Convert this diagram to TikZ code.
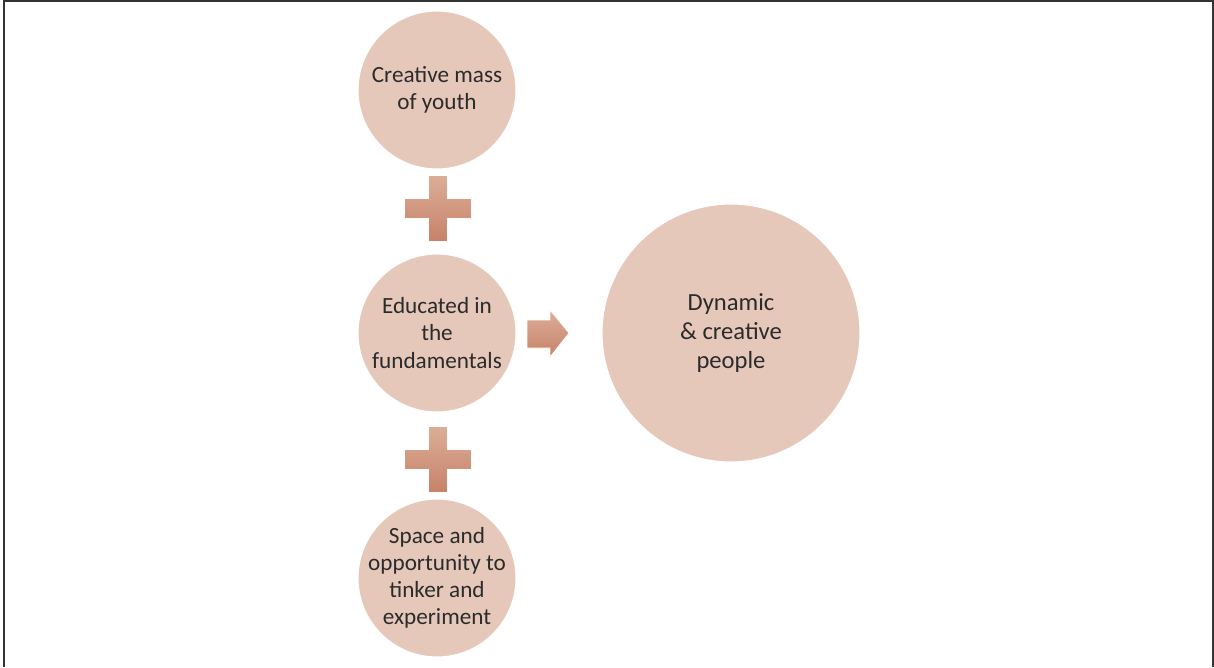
\documentclass[tikz,border=0pt]{standalone}
\usepackage{fontspec}
\setmainfont{Carlito}
\definecolor{discfill}{HTML}{E6C8BA}
\definecolor{signtop}{HTML}{DCAE97}
\definecolor{signbot}{HTML}{C7826A}
\definecolor{textdark}{HTML}{2B2B2B}
\begin{document}
\begin{tikzpicture}[x=0.02cm,y=-0.02cm,
    disc/.style={circle,fill=discfill,draw=white,line width=0.6pt,inner sep=0pt,
      minimum size=3.16cm,align=center,text=textdark,font=\fontsize{13.2}{15.4}\selectfont},
    bigdisc/.style={disc,minimum size=5.16cm,font=\fontsize{14}{16.5}\selectfont},
    sign/.style={top color=signtop,bottom color=signbot,draw=white,line width=0.4pt}]
   \useasboundingbox (0,0) rectangle (1214,667);
   \draw[line width=1.2pt,draw=black!80] (4,667) -- (4,1) -- (1213,1) -- (1213,667);
   \node[disc] (youth) at (437,90) {Creative mass\\of youth};
   \node[disc] (basics) at (437,333) {Educated in\\the\\fundamentals};
   \node[disc,inner sep=-9pt] (space) at (437,578) {Space and\\opportunity to\\tinker and\\experiment};
   \node[bigdisc] (people) at (731,333) {Dynamic\\\& creative\\people};
   % plus signs
   \foreach \y in {175,426}
      \path[sign] (428,\y) -- (447,\y) -- (447,\y+23) -- (471,\y+23) -- (471,\y+43)
         -- (447,\y+43) -- (447,\y+66) -- (428,\y+66) -- (428,\y+43) -- (404,\y+43)
         -- (404,\y+23) -- (428,\y+23) -- cycle;
   % arrow
   \path[sign] (527,320) -- (550,320) -- (550,310) -- (569,333) -- (550,357)
      -- (550,348) -- (527,348) -- cycle;
\end{tikzpicture}
\end{document}
